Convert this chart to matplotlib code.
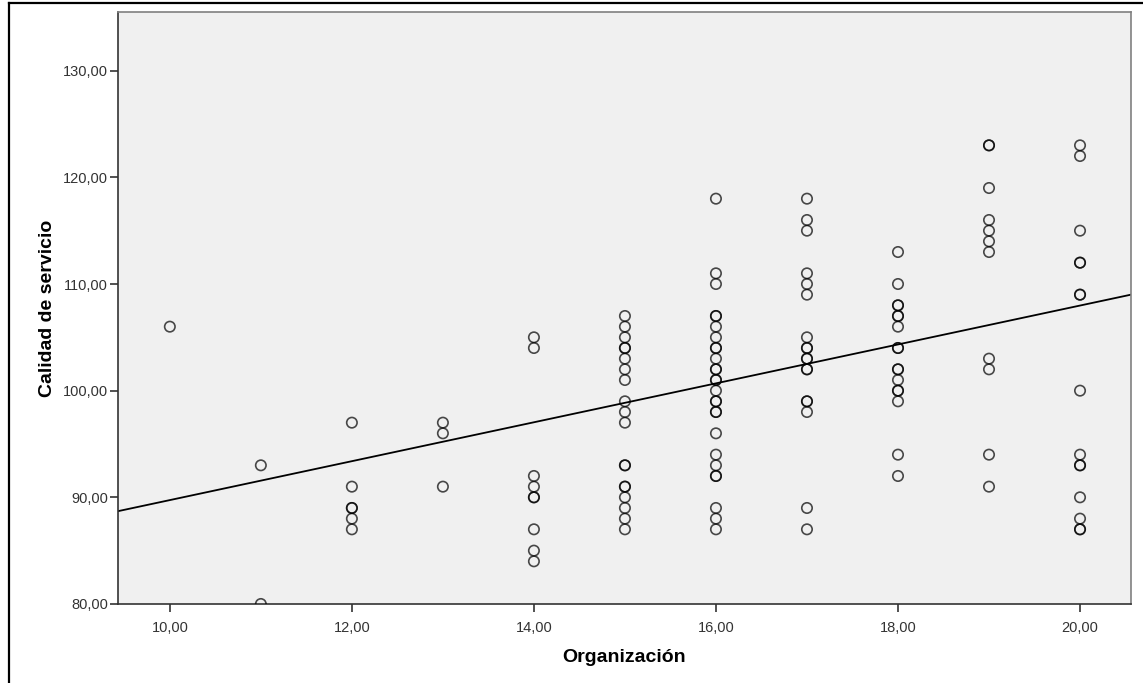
import matplotlib
matplotlib.use('Agg')
import matplotlib.pyplot as plt
from matplotlib.lines import Line2D
from matplotlib.ticker import FuncFormatter

plt.rcParams['font.family'] = ['Liberation Sans', 'DejaVu Sans']

# Organización levels and the Calidad de servicio scores recorded at each one
org_levels = [10, 11, 12, 13, 14, 15, 16, 17, 18, 19, 20]
calidad_10 = [106]
calidad_11 = [93, 80]
calidad_12 = [97, 91, 89, 89, 88, 87]
calidad_13 = [97, 96, 91]
calidad_14 = [105, 104, 92, 91, 90, 90, 87, 85, 84]
calidad_15 = [107, 106, 105, 104, 104, 103, 102, 101, 99, 98, 97,
              93, 93, 91, 91, 90, 89, 88, 87]
calidad_16 = [118, 111, 110, 107, 107, 106, 105, 104, 104, 103, 102, 102,
              101, 101, 100, 99, 99, 98, 98, 96, 94, 93, 92, 92, 89, 88, 87]
calidad_17 = [118, 116, 115, 111, 110, 109, 105, 104, 104, 103, 103,
              102, 102, 99, 99, 98, 89, 87]
calidad_18 = [113, 110, 108, 108, 107, 107, 106, 104, 104, 102, 102,
              101, 100, 100, 99, 94, 92]
calidad_19 = [123, 123, 119, 116, 115, 114, 113, 103, 102, 94, 91]
calidad_20 = [123, 122, 115, 112, 112, 109, 109, 100, 94, 93, 93,
              90, 88, 87, 87]
calidad_groups = [calidad_10, calidad_11, calidad_12, calidad_13, calidad_14,
                  calidad_15, calidad_16, calidad_17, calidad_18, calidad_19,
                  calidad_20]

# linear fit line (intercept, slope)
fit_intercept = 71.5
fit_slope = 1.824

xticks = [10, 12, 14, 16, 18, 20]
yticks = [80, 90, 100, 110, 120, 130]

org = []
calidad = []
for lvl, grp in zip(org_levels, calidad_groups):
    org += [lvl] * len(grp)
    calidad += grp

fig = plt.figure(figsize=(11.43, 6.83), dpi=100)
ax = fig.add_axes([0.1032, 0.1157, 0.8863, 0.8667])
ax.set_facecolor('#f0f0f0')

ax.scatter(org, calidad, s=56, facecolors='none', edgecolors='black',
           linewidths=1.2, alpha=0.7, zorder=3)

xlim = (9.43, 20.56)
ax.plot(xlim, [fit_intercept + fit_slope * v for v in xlim],
        color='black', lw=1.3, zorder=2)

ax.set_xlim(*xlim)
ax.set_ylim(80, 135.5)
ax.set_xticks(xticks)
ax.set_yticks(yticks)
fmt = FuncFormatter(lambda v, pos: ('%.2f' % v).replace('.', ','))
ax.xaxis.set_major_formatter(fmt)
ax.yaxis.set_major_formatter(fmt)
ax.tick_params(axis='both', direction='out', length=6, width=1.2,
               colors='#333333', labelsize=10.5, labelcolor='#333333')
ax.tick_params(axis='y', pad=1)
ax.tick_params(axis='x', pad=6)

for side in ('left', 'bottom'):
    ax.spines[side].set_color('#333333')
    ax.spines[side].set_linewidth(1.2)
for side in ('top', 'right'):
    ax.spines[side].set_color('#808080')
    ax.spines[side].set_linewidth(1.2)

ax.set_xlabel('Organización', fontsize=14, fontweight='bold', labelpad=10)
ax.set_ylabel('Calidad de servicio', fontsize=14, fontweight='bold',
              labelpad=5)

# outer frame, left and top edges
fig.add_artist(Line2D([0.0075, 0.0075], [0, 0.9956], color='black', lw=1.6,
                      transform=fig.transFigure))
fig.add_artist(Line2D([0.0075, 1.0], [0.9956, 0.9956], color='black', lw=1.6,
                      transform=fig.transFigure))

fig.savefig('out.png', dpi=100)
